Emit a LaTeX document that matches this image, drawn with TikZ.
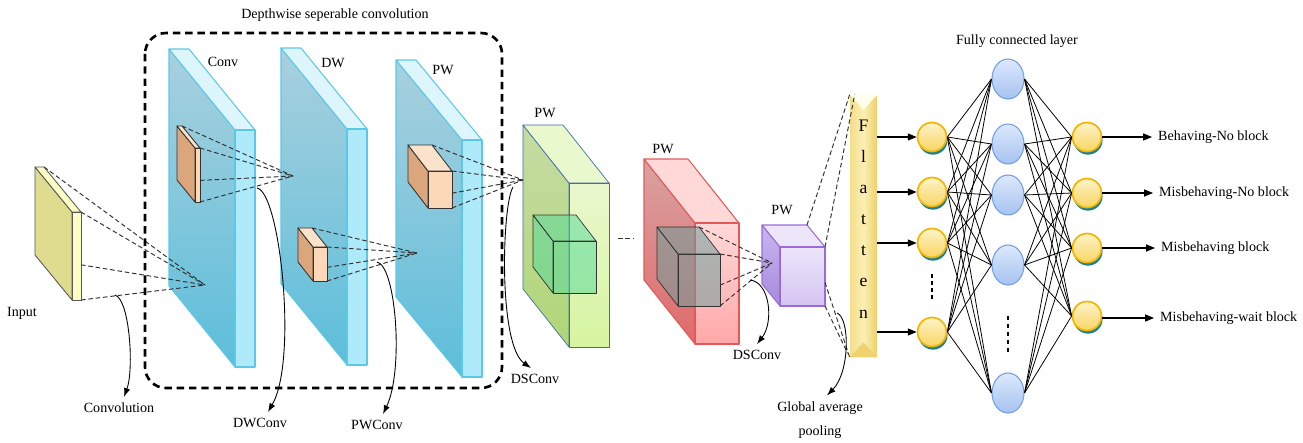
\documentclass[tikz,border=0pt]{standalone}
\usepackage{fontspec}
\setmainfont{Liberation Serif}
\usetikzlibrary{arrows.meta,calc,shadows,shapes.geometric}

\definecolor{slabside}{HTML}{A9D0DE}
\definecolor{slabsidedk}{HTML}{5CBEDA}
\definecolor{slabfront}{HTML}{AEEAFA}
\definecolor{slabtop}{HTML}{DDF5FC}
\definecolor{slabline}{HTML}{5CC8E8}
\definecolor{kernside}{HTML}{DCA67C}
\definecolor{kernfront}{HTML}{FCD8B8}
\definecolor{kerntop}{HTML}{FBE3CB}
\definecolor{inside}{HTML}{DEDC8E}
\definecolor{infront}{HTML}{FDFDC6}
\definecolor{greenside}{HTML}{C6DBA4}
\definecolor{greensidedk}{HTML}{B0D676}
\definecolor{greenfront}{HTML}{EAF8CE}
\definecolor{greenfrontdk}{HTML}{D6F4A0}
\definecolor{greenline}{HTML}{3E6FA6}
\definecolor{greencube}{HTML}{4FD99A}
\definecolor{redside}{HTML}{D9A2A2}
\definecolor{redsidedk}{HTML}{E06A6A}
\definecolor{redfront}{HTML}{FFD8D8}
\definecolor{redfrontdk}{HTML}{FFA8A8}
\definecolor{redline}{HTML}{E35959}
\definecolor{redcube}{HTML}{6E9E9A}
\definecolor{purpside}{HTML}{C8B6EE}
\definecolor{purpsidedk}{HTML}{A68BDC}
\definecolor{purpfront}{HTML}{EDE6FA}
\definecolor{purpfrontdk}{HTML}{D4C4F1}
\definecolor{purpline}{HTML}{9B6BDC}
\definecolor{flatL}{HTML}{F3DE8C}
\definecolor{flatM}{HTML}{FCEFB4}
\definecolor{flatR}{HTML}{EDD06A}
\definecolor{unitfill}{HTML}{FDF3C8}
\definecolor{unitfilldk}{HTML}{FAD663}
\definecolor{unitline}{HTML}{F2B705}
\definecolor{unitshadow}{HTML}{1E7F8E}
\definecolor{hidfill}{HTML}{DCE8FC}
\definecolor{hidfilldk}{HTML}{A6C3F0}
\definecolor{hidline}{HTML}{6E9FE5}

\tikzset{
  face/.style={line width=.6pt, line join=round},
  blue side/.style={face, top color=slabside, bottom color=slabsidedk, draw=slabline},
  blue top/.style={face, fill=slabtop, draw=slabline},
  blue front/.style={face, fill=slabfront, draw=slabline},
  kern side/.style={face, fill=kernside, draw=black!80, line width=.5pt},
  kern top/.style={face, fill=kerntop, draw=black!80, line width=.5pt},
  kern front/.style={face, fill=kernfront, draw=black!80, line width=.5pt},
  in side/.style={face, fill=inside, draw=black!65, line width=.5pt},
  in top/.style={face, fill=infront, draw=black!65, line width=.5pt},
  in front/.style={face, fill=infront, draw=black!65, line width=.5pt},
  green side/.style={face, top color=greenside, bottom color=greensidedk, draw=greenline, line width=.4pt},
  green top/.style={face, fill=greenfront, draw=greenline, line width=.4pt},
  green front/.style={face, top color=greenfront, bottom color=greenfrontdk, draw=greenline, line width=.4pt},
  gcube side/.style={face, fill=greencube, fill opacity=.5, draw=black!80, line width=.4pt},
  gcube top/.style={gcube side},
  gcube front/.style={gcube side},
  red side/.style={face, top color=redside, bottom color=redsidedk, draw=redline},
  red top/.style={face, fill=redfront, draw=redline},
  red front/.style={face, top color=redfront, bottom color=redfrontdk, draw=redline},
  rcube side/.style={face, fill=redcube, fill opacity=.55, draw=black!80, line width=.4pt},
  rcube top/.style={rcube side},
  rcube front/.style={rcube side},
  purp side/.style={face, top color=purpside, bottom color=purpsidedk, draw=purpline},
  purp top/.style={face, fill=purpfront, draw=purpline},
  purp front/.style={face, top color=purpfront, bottom color=purpfrontdk, draw=purpline},
  conv line/.style={dash pattern=on 2.6pt off 1.6pt, line width=.55pt, black!80},
  dw frame/.style={dash pattern=on 4.2pt off 2.8pt, line width=1.5pt, rounded corners=.42cm},
  bend arrow/.style={-{Latex[length=5pt,width=3.6pt]}, line width=.5pt},
  fc arrow/.style={-{Triangle[length=5pt,width=4pt]}, line width=.6pt},
  link/.style={line width=.45pt},
  unit/.style={circle, minimum size=.58cm, inner sep=0pt, draw=unitline, line width=1pt,
    top color=unitfill, bottom color=unitfilldk,
    drop shadow={shadow xshift=.6pt, shadow yshift=-1.8pt, fill=unitshadow, opacity=1}},
  hidden/.style={ellipse, minimum width=.64cm, minimum height=.8cm, inner sep=0pt,
    draw=hidline, line width=.6pt, top color=hidfill, bottom color=hidfilldk},
}

% cuboid: name, front corner x y, width, height, depth dx dy, colour set
\def\cuboid#1#2#3#4#5#6#7#8{%
  \coordinate (#1-tl) at (#2,#3);
  \coordinate (#1-tr) at (#2+#4,#3);
  \coordinate (#1-br) at (#2+#4,#3+#5);
  \coordinate (#1-bl) at (#2,#3+#5);
  \coordinate (#1-m) at (#2+#4,#3+.6*#5);
  \coordinate (#1-btl) at (#2-#6,#3-#7);
  \coordinate (#1-btr) at (#2+#4-#6,#3-#7);
  \path[#8 side] (#1-tl) -- (#1-btl) -- ++(0,#5) -- (#1-bl) -- cycle;
  \path[#8 top] (#1-tl) -- (#1-btl) -- (#1-btr) -- (#1-tr) -- cycle;
  \path[#8 front] (#1-tl) rectangle (#1-br);
}

\begin{document}
\begin{tikzpicture}[x=0.02cm, y=-0.02cm, font=\fontsize{8}{9.6}\selectfont]
\useasboundingbox (0,0) rectangle (1303,443);

% feature maps
\cuboid{in}{72}{212}{9}{88}{37}{45}{in}
\cuboid{conv}{235}{130}{20}{237}{66}{81}{blue}
\cuboid{dw}{347}{129}{20}{236}{66}{81}{blue}
\cuboid{pw}{462}{140}{20}{237}{66}{80}{blue}
\cuboid{k1}{195}{148}{5}{54}{18}{22}{kern}
\cuboid{k2}{313}{247}{14}{34}{15}{19}{kern}
\cuboid{k3}{428}{171}{24}{37}{20}{26}{kern}
\cuboid{gs}{569}{183}{40}{164}{46}{58}{green}
\cuboid{gk}{553}{241}{43}{52}{20}{26}{gcube}
\cuboid{rs}{695}{223}{44}{121}{51}{64}{red}
\cuboid{rk}{678}{254}{42}{52}{21}{27}{rcube}
\cuboid{ps}{780}{247}{45}{59}{18}{22}{purp}

% receptive fields
\coordinate (f0) at (205,285);
\coordinate (f1) at (293,176);
\coordinate (f2) at (417,253);
\coordinate (f3) at (523,180);
\coordinate (f4) at (772,263);
\foreach \p in {btr,tr,m,br} {
  \draw[conv line] (in-\p) -- (f0);
  \draw[conv line] (k1-\p) -- (f1);
  \draw[conv line] (k2-\p) -- (f2);
  \draw[conv line] (k3-\p) -- (f3);
  \draw[conv line] (rk-\p) -- (f4);
}
\draw[conv line] (618,238) -- (634,238);

% depthwise separable block
\draw[dw frame] (145,33) rectangle (502,388);
\node (dsc) at (335,15) {Depthwise seperable convolution};

% flatten bar
\node[minimum width=.54cm, minimum height=5.24cm, inner sep=0pt,
  left color=flatL, right color=flatR, middle color=flatM] (flat) at (863.5,226) {};
\fill[yellow!8!white] (flat.north west) -- (flat.north east) -- ($(flat.north)+(0,15)$) -- cycle;
\fill[flatR!85!flatL] (flat.south west) -- (flat.south east) -- ($(flat.south)+(0,-15)$) -- cycle;
\node[font=\fontsize{10}{17.7}\selectfont, align=center] (flattxt) at (863.5,219) {F\\l\\a\\t\\t\\e\\n};
\draw[conv line] (ps-btr) -- (flat.north west);
\draw[conv line] (ps-tr) -- ($(flat.north west)+(5,0)$);
\draw[conv line] (ps-m) -- (flat.south west);
\draw[conv line] (ps-br) -- ($(flat.south west)+(-2,-4)$);

% labels
\node (lconv) at (223,62) {Conv};
\node (ldw) at (333,63) {DW};
\node (lpw1) at (443,70) {PW};
\node (lpw2) at (545,113) {PW};
\node (lpw3) at (663,149) {PW};
\node (lpw4) at (782,210) {PW};
\node (linput) at (22,313) {Input};
\node (lconvol) at (119,408) {Convolution};
\node (ldwconv) at (260,423) {DWConv};
\node (lpwconv) at (377,425) {PWConv};
\node (lds1) at (535,379) {DSConv};
\node (lds2) at (757,355) {DSConv};
\node[align=center, font=\fontsize{8}{13.6}\selectfont] (lgap) at (820,420) {Global average\\pooling};

% operation arrows
\coordinate (s0) at (115,295);
\coordinate (s1) at (257,188);
\coordinate (s2) at (377,262);
\coordinate (s3) at (513,187);
\coordinate (s4) at (750,280);
\coordinate (s5) at (837,313);
\draw[bend arrow] (s0) .. controls (130,300) and (134,370) .. ([xshift=.1cm]lconvol.north);
\draw[bend arrow] (s1) .. controls (280,192) and (298,360) .. ([xshift=.16cm]ldwconv.north);
\draw[bend arrow] (s2) .. controls (396,266) and (404,370) .. ([xshift=.12cm]lpwconv.north);
\draw[bend arrow] (s3) .. controls (502,205) and (498,345) .. ([xshift=-.08cm]lds1.north);
\draw[bend arrow] (s4) .. controls (770,282) and (774,322) .. (lds2.north);
\draw[bend arrow] (s5) .. controls (850,318) and (850,372) .. ([xshift=.14cm]lgap.north);

% fully connected layer
\node (lfc) at (1017,41) {Fully connected layer};
\foreach \n/\y in {1/137,2/192,3/243,4/332}
  \node[unit] (i\n) at (932,\y) {};
\foreach \n/\y in {1/79,2/144,3/195,4/265,5/393}
  \node[hidden] (h\n) at (1008,\y) {};
\foreach \n/\y in {1/137,2/193,3/248,4/316}
  \node[unit] (o\n) at (1087,\y) {};
\foreach \i in {1,...,4}
  \foreach \j in {1,...,5}
    \draw[link] (i\i.east) -- (h\j.west);
\foreach \j in {1,...,5}
  \foreach \k in {1,...,4}
    \draw[link] (h\j.east) -- (o\k.west);
\foreach \d in {0,...,3}
  \fill (930.8,274+\d*7) rectangle ++(2.6,3.6);
\foreach \d in {0,...,4}
  \fill (1006.7,316+\d*8) rectangle ++(2.6,3.6);
\foreach \n in {1,...,4}
  \draw[fc arrow] (flat.east |- i\n) -- (i\n);

% classes
\node[anchor=west] (c1) at (1152,137) {Behaving-No block};
\node[anchor=west] (c2) at (1153,193) {Misbehaving-No block};
\node[anchor=west] (c3) at (1155,248) {Misbehaving block};
\node[anchor=west] (c4) at (1154,318) {Misbehaving-wait block};
\foreach \n in {1,...,4}
  \draw[fc arrow] (o\n.east |- c\n) -- (c\n.west);
\end{tikzpicture}
\end{document}
